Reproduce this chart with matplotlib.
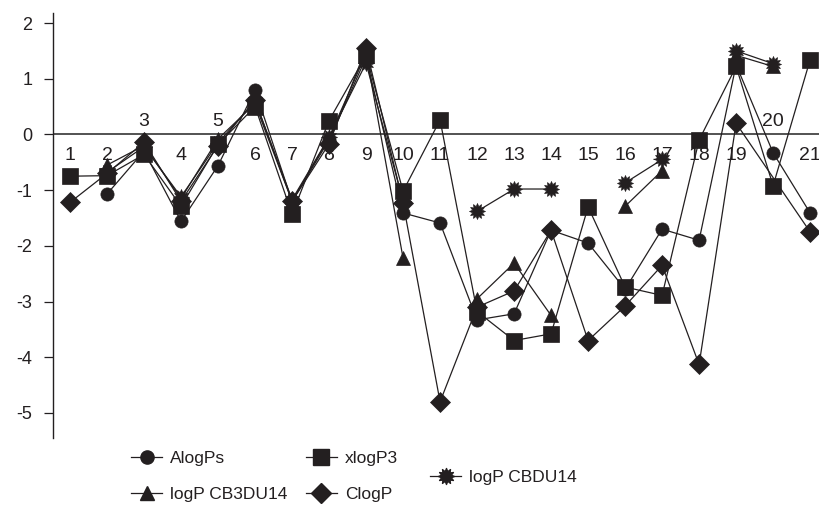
import numpy as np
import matplotlib
matplotlib.use("Agg")
import matplotlib.pyplot as plt
from matplotlib.path import Path
from matplotlib.lines import Line2D

plt.rcParams['font.family'] = ['Liberation Sans', 'DejaVu Sans']
plt.rcParams['axes.unicode_minus'] = False

# compound number 1..21
compounds = list(range(1, 22))
nan = np.nan

alogps = [nan, -1.07, -0.30, -1.56, -0.56, 0.80, -1.20, -0.10, 1.38, -1.41, -1.59,
          -3.33, -3.22, -1.72, -1.95, -2.78, -1.70, -1.90, 1.25, -0.33, -1.41]
xlogp3 = [-0.75, -0.74, -0.36, -1.29, -0.18, 0.50, -1.43, 0.25, 1.42, -1.02, 0.26,
          -3.18, -3.70, -3.58, -1.30, -2.74, -2.89, -0.10, 1.22, -0.92, 1.34]
logp_cb3du14 = [nan, -0.55, -0.20, -1.15, -0.08, 0.55, -1.20, -0.06, 1.45, -2.22, nan,
                -2.95, -2.31, -3.25, nan, -1.29, -0.65, nan, 1.42, 1.22, nan]
clogp = [-1.22, -0.70, -0.14, -1.20, -0.20, 0.62, -1.20, -0.17, 1.55, -1.23, -4.80,
         -3.10, -2.81, -1.72, -3.70, -3.08, -2.35, -4.13, 0.20, nan, -1.75]
logp_cbdu14 = [nan, -0.68, -0.22, -1.12, -0.15, 0.60, -1.17, -0.05, 1.28, -1.20, nan,
               -1.38, -0.98, -0.98, nan, -0.87, -0.45, nan, 1.50, 1.27, nan]

# labels drawn above the zero line for these compounds
labels_above = [3, 5, 20]

ink = '#231f20'
star = Path.unit_regular_star(12, 0.62)

fig = plt.figure(figsize=(8.19, 5.07), dpi=100)
ax = fig.add_axes([53 / 819, 1 - 438 / 507, 1 - 53 / 819, (438 - 13) / 507])

x = np.array(compounds)
series = [
    (alogps, 'o', 9.5, 'AlogPs', False),
    (xlogp3, 's', 11, 'xlogP3', False),
    (logp_cb3du14, '^', 10.5, 'logP CB3DU14', False),
    (clogp, 'D', 10, 'ClogP', True),
    (logp_cbdu14, star, 11.5, 'logP CBDU14', False),
]
handles = {}
for vals, mk, ms, name, join_gaps in series:
    y = np.array(vals, dtype=float)
    if join_gaps:
        keep = ~np.isnan(y)
        xs, ys = x[keep], y[keep]
    else:
        xs, ys = x, y
    ax.plot(xs, ys, color=ink, lw=0.9, marker=mk, markersize=ms,
            markerfacecolor=ink, markeredgecolor=ink, markeredgewidth=0.5)
    handles[name] = Line2D([], [], color=ink, lw=0.9, marker=mk, markersize=ms,
                           markerfacecolor=ink, markeredgecolor=ink)

ax.axhline(0, color='#444444', lw=1.3, zorder=0)

for c in compounds:
    yy = 0.23 if c in labels_above else -0.38
    ax.text(c, yy, str(c), ha='center', va='center', fontsize=14, color=ink)

ax.set_xlim(0.54, 21.24)
ax.set_ylim(-5.45, 2.18)
ax.set_yticks(range(-5, 3))
ax.set_xticks([])
for s in ['top', 'right', 'bottom']:
    ax.spines[s].set_visible(False)
ax.spines['left'].set_color(ink)
ax.spines['left'].set_linewidth(1.0)
ax.tick_params(axis='y', direction='out', length=6.5, width=0.9, pad=8.5,
               labelsize=13, colors=ink)

leg_kw = dict(frameon=False, fontsize=12.5, handlelength=1.8, handletextpad=0.45,
              borderpad=0, borderaxespad=0, bbox_transform=fig.transFigure,
              loc='upper left')
names1 = ['AlogPs', 'logP CB3DU14', 'xlogP3', 'ClogP']
leg1 = fig.legend([handles[n] for n in names1], names1, ncol=2, labelspacing=1.18,
                  columnspacing=1.05, bbox_to_anchor=(131 / 819, 1 - 451 / 507), **leg_kw)
leg2 = fig.legend([handles['logP CBDU14']], ['logP CBDU14'],
                  bbox_to_anchor=(430 / 819, 1 - 470 / 507), **leg_kw)
for lg in (leg1, leg2):
    for t in lg.get_texts():
        t.set_color(ink)

fig.savefig('out.png', dpi=100)
